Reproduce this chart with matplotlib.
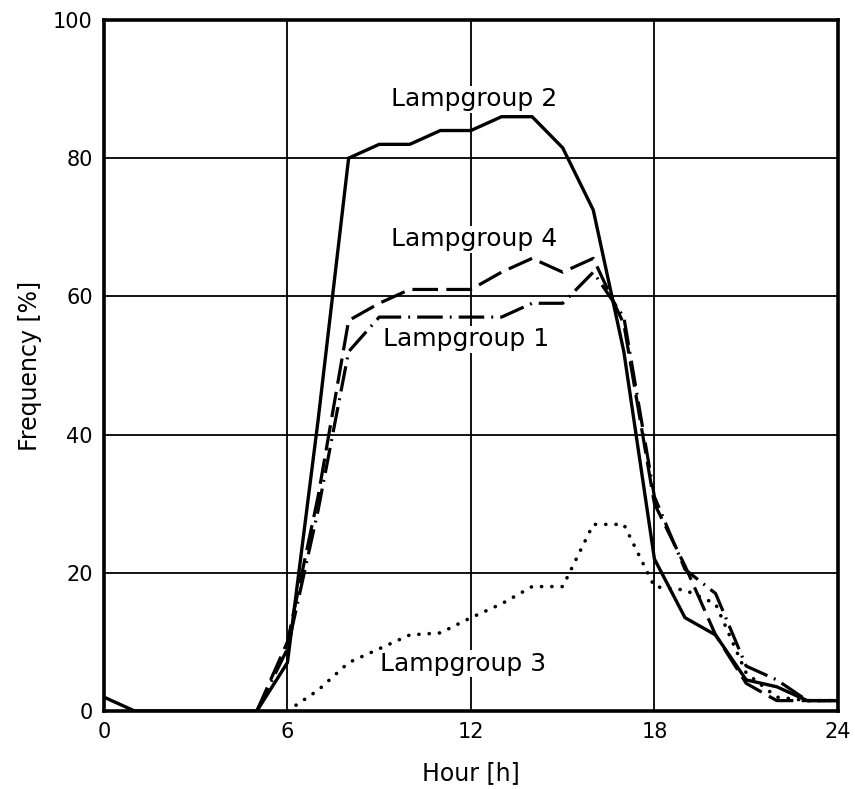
import matplotlib.pyplot as plt
import numpy as np

# Stunden (0..24)
hours = np.arange(0, 25)
hours_from5 = np.arange(5, 25)
hours_from6 = np.arange(6, 25)

# Lampgroup 2 (solid), 0..24 h
group2 = [2, 0, 0, 0, 0, 0, 7, 42, 80, 82, 82, 84, 84, 86, 86, 81.5, 72.5,
          52, 22, 13.5, 11, 4.5, 3.5, 1.5, 1.5]
# Lampgroup 1 (dash-dot), 5..24 h
group1 = [0, 9, 29, 52, 57, 57, 57, 57, 57, 59, 59, 63.5, 57, 31, 20.5, 17,
          6.5, 4.5, 1.5, 1.5]
# Lampgroup 4 (dashed), 5..24 h
group4 = [0, 10, 31, 56.5, 59, 61, 61, 61, 63.5, 65.5, 63.5, 65.5, 56, 30, 21,
          11, 4, 1.5, 1.5, 1.5]
# Lampgroup 3 (dotted), 6..24 h
group3 = [0, 3, 7, 9, 11, 11.3, 13.5, 15.5, 18, 18, 27, 27, 18, 17.5, 15.5,
          5.5, 2, 1.5, 1.5]

xticks = [0, 6, 12, 18, 24]
yticks = [0, 20, 40, 60, 80, 100]

fig = plt.figure(figsize=(8.55, 7.89), dpi=100)
ax = fig.add_axes([0.1216, 0.0989, 0.8584, 0.8758])

ax.plot(hours, group2, color='black', lw=2.4, solid_joinstyle='miter')
ax.plot(hours_from5, group1, color='black', lw=2.3,
        linestyle=(0, (8, 2.2, 0.6, 2.2)))
ax.plot(hours_from5, group4, color='black', lw=2.3,
        linestyle=(0, (8, 2.6)))
ax.plot(hours_from6, group3, color='black', lw=2.6,
        linestyle=(0, (0.05, 2.8)), dash_capstyle='round')

ax.set_xlim(0, 24)
ax.set_ylim(0, 100)
ax.set_xticks(xticks)
ax.set_yticks(yticks)
ax.tick_params(length=0, labelsize=15, pad=8)
ax.grid(True, color='black', lw=1.3)
ax.set_axisbelow(True)
for s in ax.spines.values():
    s.set_linewidth(2.6)

box = dict(facecolor='white', edgecolor='none', pad=1)
ax.text(12.1, 88.5, 'Lampgroup 2', fontsize=18, ha='center', va='center', bbox=box)
ax.text(12.1, 68.3, 'Lampgroup 4', fontsize=18, ha='center', va='center', bbox=box)
ax.text(11.85, 53.8, 'Lampgroup 1', fontsize=18, ha='center', va='center', bbox=box)
ax.text(11.75, 6.8, 'Lampgroup 3', fontsize=18, ha='center', va='center', bbox=box)

ax.set_xlabel('Hour [h]', fontsize=17, labelpad=14)
ax.set_ylabel('Frequency [%]', fontsize=17, labelpad=8)

fig.savefig('out.png', dpi=100)
